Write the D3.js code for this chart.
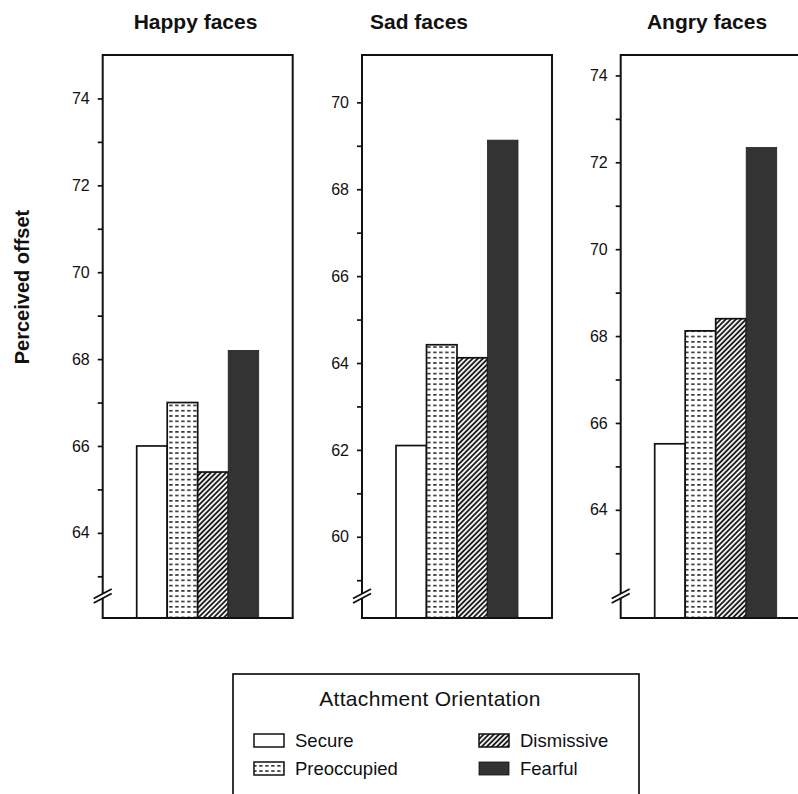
<!DOCTYPE html>
<html>
<head>
<meta charset="utf-8">
<script src="https://cdn.jsdelivr.net/npm/d3@7"></script>
<style>
  html, body { margin: 0; padding: 0; background: #fff; }
  svg { display: block; }
  text { font-family: "Liberation Sans", Arial, Helvetica, sans-serif; fill: #111; }
</style>
</head>
<body>
<svg id="chart" width="798" height="794"></svg>
<script>
// ---------- data ----------
const categories = ["Secure", "Preoccupied", "Dismissive", "Fearful"];
const panelTitles = ["Happy faces", "Sad faces", "Angry faces"];
const happyValues = [66.0, 67.0, 65.4, 68.2];
const sadValues   = [62.1, 64.42, 64.12, 69.13];
const angryValues = [65.52, 68.12, 68.4, 72.34];
const happyTicks = [64, 66, 68, 70, 72, 74];
const sadTicks   = [60, 62, 64, 66, 68, 70];
const angryTicks = [64, 66, 68, 70, 72, 74];
const happyMinor = [63, 65, 67, 69, 71, 73];
const sadMinor   = [59, 61, 63, 65, 67, 69];
const angryMinor = [63, 65, 67, 69, 71, 73];
const happyDomain = [62.04, 75.0];
const sadDomain   = [58.13, 71.09];
const angryDomain = [61.51, 74.47];
const yLabel = "Perceived offset";
const legendTitle = "Attachment Orientation";

const panels = [
  { title: panelTitles[0], values: happyValues, ticks: happyTicks, minor: happyMinor, domain: happyDomain },
  { title: panelTitles[1], values: sadValues,   ticks: sadTicks,   minor: sadMinor,   domain: sadDomain },
  { title: panelTitles[2], values: angryValues, ticks: angryTicks, minor: angryMinor, domain: angryDomain }
];

// ---------- layout ----------
const svg = d3.select("#chart");
const panelLeft = [102.7, 362, 620.7];
const titleX = [195.5, 419, 707];
const panelW = 190;
const plotTop = 55, plotBottom = 618;

// patterns
const defs = svg.append("defs");
const dots = defs.append("pattern").attr("id", "pat-preocc")
  .attr("patternUnits", "userSpaceOnUse").attr("width", 6).attr("height", 5.3);
dots.append("rect").attr("width", 6).attr("height", 5.3).attr("fill", "#fff");
dots.append("line").attr("x1", 1.2).attr("x2", 4.6).attr("y1", 2.6).attr("y2", 2.6)
  .attr("stroke", "#111").attr("stroke-width", 1.4);

const hatch = defs.append("pattern").attr("id", "pat-dism")
  .attr("patternUnits", "userSpaceOnUse").attr("width", 3.6).attr("height", 3.6)
  .attr("patternTransform", "rotate(45)");
hatch.append("rect").attr("width", 3.6).attr("height", 3.6).attr("fill", "#fff");
hatch.append("line").attr("x1", 1).attr("x2", 1).attr("y1", 0).attr("y2", 3.6)
  .attr("stroke", "#111").attr("stroke-width", 1.8);

const fills = {
  "Secure": "#fff",
  "Preoccupied": "url(#pat-preocc)",
  "Dismissive": "url(#pat-dism)",
  "Fearful": "#333"
};

panels.forEach((p, i) => {
  const left = panelLeft[i];
  const g = svg.append("g");
  const y = d3.scaleLinear().domain(p.domain).range([plotBottom, plotTop]);
  const x = d3.scaleBand().domain(categories).range([left + 34, left + 156]).padding(0);

  // bars
  g.selectAll("rect.bar").data(categories.map((c, k) => ({ c, v: p.values[k] })))
    .join("rect").attr("class", "bar")
    .attr("x", d => x(d.c))
    .attr("width", x.bandwidth())
    .attr("y", d => y(d.v))
    .attr("height", d => plotBottom - y(d.v))
    .attr("fill", d => fills[d.c])
    .attr("stroke", d => d.c === "Fearful" ? "#222" : "#111")
    .attr("stroke-width", d => d.c === "Fearful" ? 0.8 : 1.7);

  // frame
  g.append("rect").attr("x", left).attr("y", plotTop).attr("width", panelW).attr("height", plotBottom - plotTop)
    .attr("fill", "none").attr("stroke", "#111").attr("stroke-width", 2);

  // major axis
  const ax = g.append("g").attr("transform", `translate(${left},0)`)
    .call(d3.axisLeft(y).tickValues(p.ticks).tickSize(5).tickPadding(8).tickFormat(d3.format("d")));
  ax.select(".domain").remove();
  ax.selectAll(".tick line").attr("stroke", "#111").attr("stroke-width", 1.7);
  ax.selectAll(".tick text").style("font-size", "16px").style("font-family", '"Liberation Sans", Arial, sans-serif').attr("fill", "#111");

  const axm = g.append("g").attr("transform", `translate(${left},0)`)
    .call(d3.axisLeft(y).tickValues(p.minor).tickSize(5).tickFormat(""));
  axm.select(".domain").remove();
  axm.selectAll(".tick line").attr("stroke", "#111").attr("stroke-width", 1.7);

  // axis break
  const by = 596;
  g.append("path")
    .attr("d", `M${left - 8},${by + 6.5} L${left + 8},${by - 2} L${left + 8},${by - 6.5} L${left - 8},${by + 2} Z`)
    .attr("fill", "#fff").attr("stroke", "none");
  [0, 4.5].forEach(off => {
    g.append("line")
      .attr("x1", left - 9).attr("y1", by + 7 - off)
      .attr("x2", left + 9).attr("y2", by - 2.5 - off)
      .attr("stroke", "#111").attr("stroke-width", 1.9);
  });

  // title
  svg.append("text").attr("x", titleX[i]).attr("y", 29.3)
    .attr("text-anchor", "middle").style("font-size", "21px").style("font-weight", "bold")
    .text(p.title);
});

// y label
svg.append("text")
  .attr("transform", "translate(29,287) rotate(-90)")
  .attr("text-anchor", "middle")
  .style("font-size", "20px").style("font-weight", "bold")
  .text(yLabel);

// legend
const lg = svg.append("g");
lg.append("rect").attr("x", 233).attr("y", 674).attr("width", 406).attr("height", 140)
  .attr("fill", "#fff").attr("stroke", "#111").attr("stroke-width", 1.7);
lg.append("text").attr("x", 430).attr("y", 705.7).attr("text-anchor", "middle")
  .style("font-size", "21px").style("letter-spacing", "0.3px").text(legendTitle);

const legendPos = [
  { x: 254, y: 734 }, { x: 254, y: 762 },
  { x: 479, y: 734 }, { x: 479, y: 762 }
];
categories.forEach((c, k) => {
  const pos = legendPos[k];
  lg.append("rect").attr("x", pos.x).attr("y", pos.y).attr("width", 30).attr("height", 13)
    .attr("fill", fills[c]).attr("stroke", "#111").attr("stroke-width", c === "Fearful" ? 0.8 : 1.5);
  lg.append("text").attr("x", pos.x + 41).attr("y", pos.y + 12.6)
    .style("font-size", "18.5px").text(c);
});
</script>
</body>
</html>
